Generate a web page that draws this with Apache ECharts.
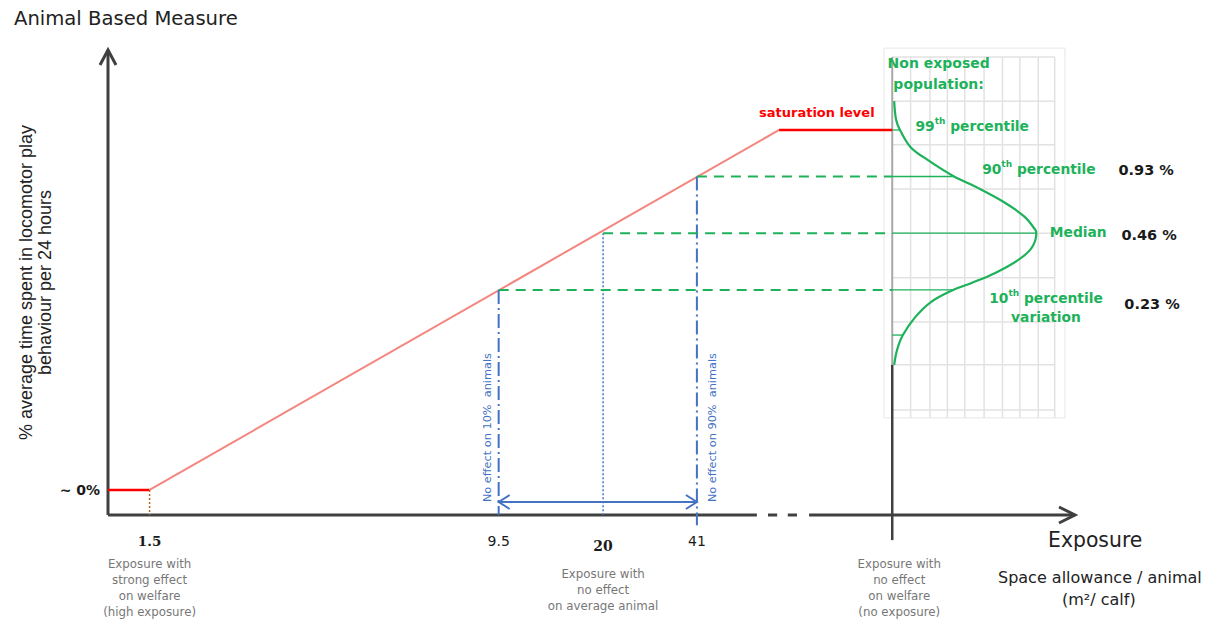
<!DOCTYPE html>
<html><head><meta charset="utf-8">
<script src="https://cdn.jsdelivr.net/npm/echarts@6/dist/echarts.min.js"></script>
<style>html,body{margin:0;padding:0;background:#fff}#c{width:1209px;height:624px}</style>
</head><body><div id="c"></div>
<script>
// ---------- DATA (schematic units: exposure axis 0-100, ABM axis 0-100) ----------
const exposureTickLabels = ['1.5', '9.5', '20', '41', ''];
const exposureTickPos = [4.3, 40.4, 51.2, 60.9, 81.1];
const exposureNotes = [
  ['Exposure with', 'strong effect', 'on welfare', '(high exposure)'],
  [],
  ['Exposure with', 'no effect', 'on average animal'],
  [],
  ['Exposure with', 'no effect', 'on welfare', '(no exposure)']
];
const zeroLevelLabel = '~ 0%';
const zeroLevel = 5.4;
const saturationStart = 69.4;
const saturationLevel = 82.8;
const percentileNames = ['10th percentile', 'Median', '90th percentile', '99th percentile'];
const percentileLevels = [48.4, 60.6, 72.8, 82.8];
const percentileCurveX = [87.4, 96.0, 87.4, 81.9];
const percentileValues = ['0.23 %', '0.46 %', '0.93 %'];
const lowTailLevel = 38.7;
const lowTailCurveX = 82.2;
// non-exposed population distribution (x = density, y = ABM level)
const curveX = [81.3, 81.5, 81.9, 83.0, 84.8, 87.4, 90.0, 92.8, 94.8, 95.9, 96.0, 95.5, 94.1, 91.7, 89.3, 87.4, 85.1, 83.5, 82.2, 81.6, 81.3];
const curveY = [89.0, 85.0, 82.8, 79.1, 76.3, 72.9, 70.3, 67.1, 64.1, 61.3, 60.6, 57.4, 54.8, 52.0, 49.9, 48.4, 45.8, 42.6, 38.7, 35.5, 32.3];
const effectLabels = ['No effect on 10%  animals', 'No effect on 90%  animals'];
// background grid of distribution panel
const panelCols = [81.1, 83.0, 85.0, 86.8, 88.6, 90.6, 92.5, 94.3, 96.2, 97.9];
const panelRows = [98.5, 89.0, 79.6, 70.1, 60.6, 51.0, 41.5, 32.3, 22.6];
const axisBreakSolidEnd = 67.1;
const axisBreakDashes = [[68.25, 69.2], [70.3, 71.25]];
const axisBreakSolidStart = 72.5;

// ---------- STYLE ----------
const GREEN = '#1db25a', BLUE = '#4472c4', RED = '#ff0000', PINK = '#f4857e', AXIS = '#404040';
const SANS = 'DejaVu Sans';

const chart = echarts.init(document.getElementById('c'), null, {renderer: 'svg'});

function seg(data, color, width, type, z) {
  return {type: 'line', data: data, symbol: 'none', silent: true, animation: false, clip: false,
    lineStyle: {color: color, width: width, type: type || 'solid', cap: 'butt'}, z: z || 3};
}
const P0 = exposureTickPos[0], P10 = exposureTickPos[1], PMED = exposureTickPos[2], P90 = exposureTickPos[3], PNE = exposureTickPos[4];

const series = [
  seg([[0, zeroLevel], [P0, zeroLevel]], RED, 2.5),
  seg([[P0, zeroLevel], [saturationStart, saturationLevel]], PINK, 2),
  seg([[saturationStart, saturationLevel], [PNE, saturationLevel]], RED, 2.5),
  seg([[P0, zeroLevel], [P0, 0]], '#b5651d', 1.5, [2, 2]),
  seg([[P10, percentileLevels[0]], [P10, 0]], BLUE, 2, [14, 4, 2, 4]),
  seg([[PMED, percentileLevels[1]], [PMED, 0]], BLUE, 1.5, [2, 2]),
  seg([[P90, percentileLevels[2]], [P90, -2.2]], BLUE, 2, [14, 4, 2, 4]),
  seg([[P10, percentileLevels[0]], [PNE, percentileLevels[0]]], GREEN, 2, [10, 7]),
  seg([[PMED, percentileLevels[1]], [PNE, percentileLevels[1]]], GREEN, 2, [10, 7]),
  seg([[P90, percentileLevels[2]], [PNE, percentileLevels[2]]], GREEN, 2, [10, 7])
];
percentileLevels.forEach(function (lv, i) {
  series.push(seg([[PNE, lv], [percentileCurveX[i], lv]], GREEN, 1.3, 'solid', 2));
});
series.push(seg([[PNE, lowTailLevel], [lowTailCurveX, lowTailLevel]], GREEN, 1.3, 'solid', 2));
const curve = seg(curveX.map(function (x, i) { return [x, curveY[i]]; }), GREEN, 2.2, 'solid', 4);
curve.smooth = 0.35;
series.push(curve);

function chevron(tip, dx, dy, len, half, color, width) {
  const px = -dy, py = dx;
  return {type: 'polyline', silent: true,
    shape: {points: [[tip[0] - len * dx + half * px, tip[1] - len * dy + half * py], tip,
                     [tip[0] - len * dx - half * px, tip[1] - len * dy - half * py]]},
    style: {stroke: color, lineWidth: width, fill: null, lineJoin: 'miter'}};
}

// background: axes + distribution panel
series.push({
  type: 'custom', coordinateSystem: 'cartesian2d', data: [[0, 0]], z: 1, silent: true, animation: false, clip: false,
  renderItem: function (params, api) {
    const P = function (x, y) { return api.coord([x, y]); };
    const ch = [];
    function pl(pts, style) {
      ch.push({type: 'polyline', silent: true, shape: {points: pts.map(function (p) { return P(p[0], p[1]); })},
        style: Object.assign({fill: null}, style)});
    }
    // panel
    pl([[80.25, 100.4], [98.97, 100.4], [98.97, 20.9], [80.25, 20.9], [80.25, 100.4]], {stroke: '#efefef', lineWidth: 1.5});
    panelRows.forEach(function (r) { pl([[panelCols[0], r], [panelCols[panelCols.length - 1], r]], {stroke: '#e2e2e2', lineWidth: 1.5}); });
    panelCols.forEach(function (c, i) { if (i > 0) pl([[c, panelRows[0]], [c, 20.9]], {stroke: '#e2e2e2', lineWidth: 1.5}); });
    pl([[PNE, panelRows[0]], [PNE, 32.3]], {stroke: '#a8a8a8', lineWidth: 2});
    pl([[PNE, 32.3], [PNE, -5.4]], {stroke: AXIS, lineWidth: 2.5});
    // y axis
    pl([[0, 0], [0, 100]], {stroke: AXIS, lineWidth: 3});
    ch.push(chevron(P(0, 100), 0, -1, 15, 8, AXIS, 3));
    // x axis with break
    pl([[0, 0], [axisBreakSolidEnd, 0]], {stroke: AXIS, lineWidth: 3});
    axisBreakDashes.forEach(function (d) { pl([[d[0], 0], [d[1], 0]], {stroke: AXIS, lineWidth: 3}); });
    pl([[axisBreakSolidStart, 0], [100, 0]], {stroke: AXIS, lineWidth: 3});
    ch.push(chevron(P(100, 0), 1, 0, 16, 8, AXIS, 3));
    return {type: 'group', children: ch};
  }
});

// foreground: annotations
series.push({
  type: 'custom', coordinateSystem: 'cartesian2d', data: [[0, 0]], z: 6, silent: true, animation: false, clip: false,
  renderItem: function (params, api) {
    const P = function (x, y) { return api.coord([x, y]); };
    const ch = [];
    function txt(x, y, text, opt) {
      const p = P(x, y);
      ch.push({type: 'text', x: p[0], y: p[1], rotation: opt.rotation || 0, silent: true,
        style: Object.assign({text: text, fontFamily: SANS, fontSize: 14, fontWeight: 'bold', fill: GREEN,
          align: 'left', verticalAlign: 'middle'}, opt.style)});
    }
    const gRich = {
      n: {fontFamily: SANS, fontSize: 13.8, fontWeight: 'bold', fill: GREEN, lineHeight: 19},
      s: {fontFamily: SANS, fontSize: 9, fontWeight: 'bold', fill: GREEN, verticalAlign: 'top', lineHeight: 19}
    };
    function sup(name) {
      const m = name.match(/^(\d+)(th)(.*)$/);
      return m ? '{n|' + m[1] + '}{s|' + m[2] + '}{n|' + m[3] + '}' : '{n|' + name + '}';
    }
    // double arrow
    const a = P(P10, 2.8), b = P(P90, 2.8);
    ch.push({type: 'polyline', silent: true, shape: {points: [a, b]}, style: {stroke: BLUE, lineWidth: 2, fill: null}});
    ch.push(chevron(a, -1, 0, 11, 7, BLUE, 2));
    ch.push(chevron(b, 1, 0, 11, 7, BLUE, 2));
    // rotated effect labels
    txt(39.2, 18.8, effectLabels[0], {rotation: Math.PI / 2, style: {fontSize: 11.3, fontWeight: 'normal', fill: BLUE, align: 'center'}});
    txt(62.5, 18.8, effectLabels[1], {rotation: Math.PI / 2, style: {fontSize: 11.3, fontWeight: 'normal', fill: BLUE, align: 'center'}});
    // saturation
    txt(73.3, 86.5, 'saturation level', {style: {fill: RED, fontSize: 13, align: 'center'}});
    // non exposed
    txt(85.9, 94.9, 'Non exposed\npopulation:', {style: {fontSize: 14, align: 'center', lineHeight: 21}});
    // percentile labels
    txt(83.5, 83.7, '', {style: {text: sup(percentileNames[3]), rich: gRich}});
    txt(90.4, 74.4, '', {style: {text: sup(percentileNames[2]), rich: gRich}});
    txt(97.4, 60.9, '', {style: {text: sup(percentileNames[1]), rich: gRich}});
    txt(97.0, 44.6, '', {style: {text: sup(percentileNames[0]) + '\n{n|variation}', rich: gRich, align: 'center'}});
    // values
    const vStyle = {fill: '#1a1a1a', fontSize: 14.5};
    txt(104.5, 74.2, percentileValues[2], {style: vStyle});
    txt(104.8, 60.2, percentileValues[1], {style: vStyle});
    txt(105.1, 45.4, percentileValues[0], {style: vStyle});
    return {type: 'group', children: ch};
  }
});

const option = {
  backgroundColor: '#fff',
  animation: false,
  title: [
    {text: 'Animal Based Measure', left: 14, top: 8, padding: 0, textStyle: {fontFamily: SANS, fontSize: 19.6, fontWeight: 'normal', color: '#222'}},
    {text: 'Exposure', left: 1048, top: 530, padding: 0, textStyle: {fontFamily: SANS, fontSize: 20.4, fontWeight: 'normal', color: '#222'}},
    {text: 'Space allowance / animal', left: 998, top: 569, padding: 0, textStyle: {fontFamily: SANS, fontSize: 16, fontWeight: 'normal', color: '#222'}},
    {text: '(m²/ calf)', left: 1062, top: 591, padding: 0, textStyle: {fontFamily: SANS, fontSize: 16, fontWeight: 'normal', color: '#222'}}
  ],
  grid: {left: 108, right: 134, top: 50, bottom: 109, containLabel: false},
  xAxis: {
    type: 'value', min: 0, max: 100,
    axisLine: {show: false}, axisTick: {show: false}, splitLine: {show: false},
    axisLabel: {
      customValues: exposureTickPos, margin: 11, hideOverlap: false,
      formatter: function (v) {
        const i = exposureTickPos.indexOf(v);
        if (i < 0) return '';
        const lab = exposureTickLabels[i];
        const notes = exposureNotes[i];
        let head;
        if (i === 0) head = '{b|' + lab + '}';
        else if (i === 2) head = '{b2|' + lab + '}';
        else if (i === 4) head = '{e| }';
        else head = '{r|' + lab + '}';
        const style = i === 4 ? 'g2' : 'g';
        return [head].concat(notes.map(function (n) { return '{' + style + '|' + n + '}'; })).join('\n');
      },
      rich: {
        b: {fontFamily: 'DejaVu Serif', fontWeight: 'bold', fontSize: 13.5, color: '#1a1a1a', lineHeight: 30},
        b2: {fontFamily: 'DejaVu Serif', fontWeight: 'bold', fontSize: 14, color: '#1a1a1a', lineHeight: 40},
        r: {fontFamily: SANS, fontSize: 14, color: '#1a1a1a', lineHeight: 30},
        e: {fontSize: 12, lineHeight: 30},
        g: {fontFamily: SANS, fontSize: 11.8, color: '#777', lineHeight: 16},
        g2: {fontFamily: SANS, fontSize: 11.8, color: '#777', lineHeight: 16, padding: [0, 0, 0, 14]}
      }
    }
  },
  yAxis: {
    type: 'value', min: 0, max: 100,
    axisLine: {show: false}, axisTick: {show: false}, splitLine: {show: false},
    axisLabel: {customValues: [zeroLevel], formatter: function () { return zeroLevelLabel; }, margin: 8,
      fontFamily: SANS, fontWeight: 'bold', fontSize: 14, color: '#1a1a1a'},
    name: '% average time spent in locomotor play\nbehaviour per 24 hours',
    nameLocation: 'middle', nameRotate: 90, nameGap: 54, nameMoveOverlap: false,
    nameTextStyle: {fontFamily: 'Liberation Sans', fontSize: 18, lineHeight: 19, color: '#222'}
  },
  series: series
};
chart.setOption(option);
</script>
</body></html>
